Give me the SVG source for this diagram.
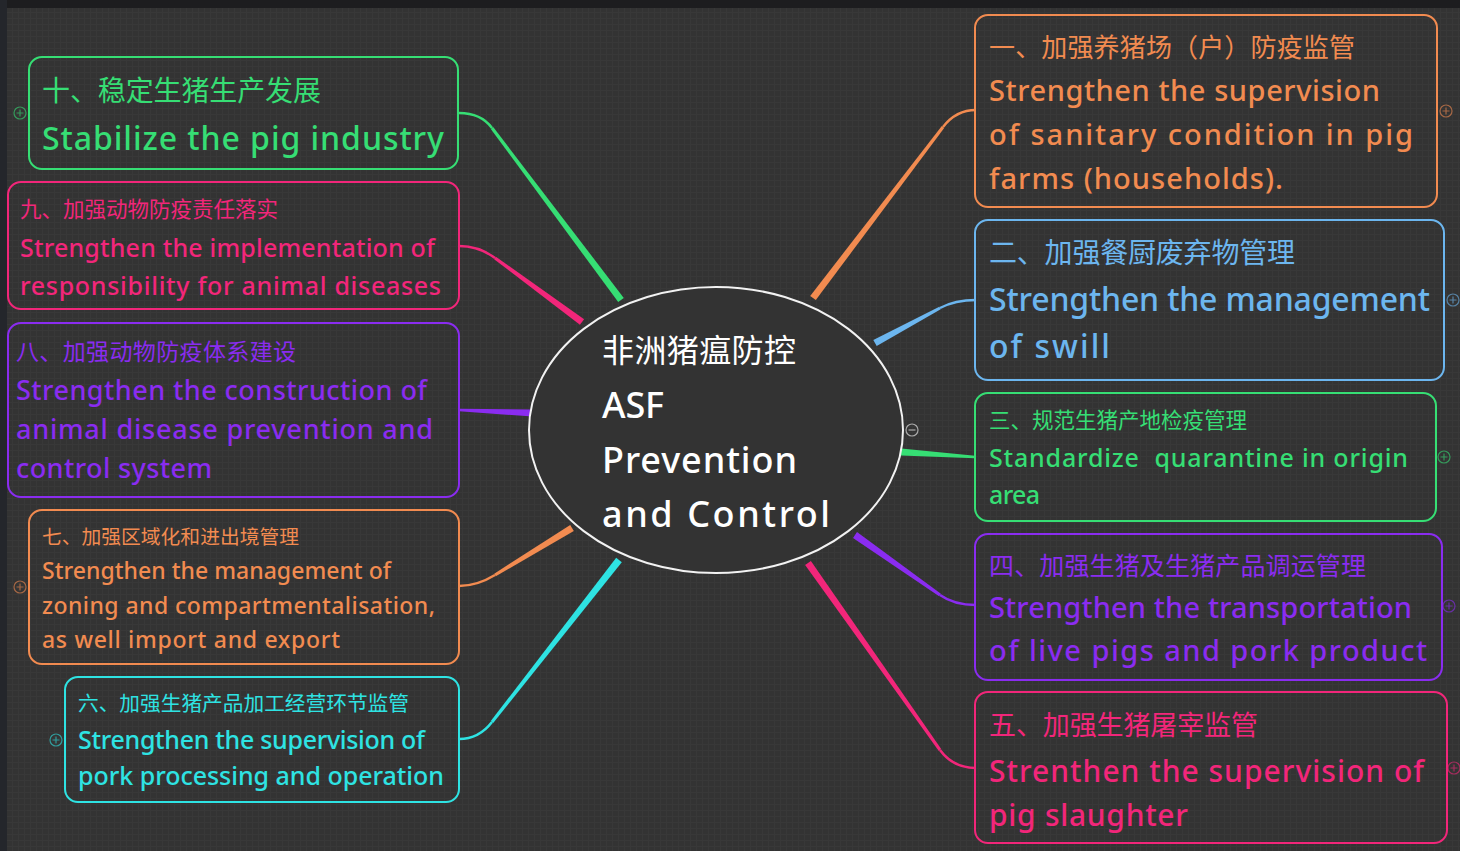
<svg xmlns="http://www.w3.org/2000/svg" width="1460" height="851" viewBox="0 0 1460 851">
<defs>
<pattern id="grid" width="6" height="6" patternUnits="userSpaceOnUse">
<rect width="6" height="6" fill="#333333"/>
<path d="M0 0.5H6M0.5 0V6" stroke="#383838" stroke-width="1"/>
</pattern>
<style>
.box{fill:none;stroke-width:2}
.cn{font-family:"Noto Sans CJK SC","Noto Sans",sans-serif}
.en{font-family:"Noto Sans","Liberation Sans",sans-serif;font-weight:500}
.or{stroke:#f28b50}.orf{fill:#f28b50}
.bl{stroke:#6cb6ef}.blf{fill:#6cb6ef}
.gr{stroke:#36de74}.grf{fill:#36de74}
.pu{stroke:#8a2cf0}.puf{fill:#8a2cf0}
.pk{stroke:#f2267a}.pkf{fill:#f2267a}
.cy{stroke:#2ee3e3}.cyf{fill:#2ee3e3}
.tog{fill:none;stroke-width:1.2;opacity:0.6}
.curve{fill:none;stroke-width:2.5}
</style>
</defs>
<rect width="1460" height="851" fill="url(#grid)"/>
<rect width="1460" height="8" fill="#1d1d1f"/>
<rect width="7" height="851" fill="#24262b"/>

<g id="connectors">
<polygon class="grf" points="623.8,297.9 493.2,127.1 490.8,128.9 618.2,302.1"/>
<path class="curve gr" d="M492 128Q481 113 459 113"/>
<polygon class="pkf" points="584.1,319.2 495.9,256.8 494.1,259.2 579.9,324.8"/>
<path class="curve pk" d="M495 258Q479 246 459 246"/>
<polygon class="puf" points="533.1,409.5 459,408.7 459,411.3 532.9,416.5"/>
<polygon class="orf" points="573.8,531.0 495.8,576.3 494.2,573.7 570.2,525.0"/>
<path class="curve or" d="M495 575Q477 586 459 586"/>
<polygon class="cyf" points="621.8,562.2 493.2,722.9 490.8,721.1 616.2,557.8"/>
<path class="curve cy" d="M492 722Q479 739 459 739"/>
<polygon class="orf" points="815.8,300.1 944.2,127.9 941.8,126.1 810.2,295.9"/>
<path class="curve or" d="M943 127Q956 110 976 110"/>
<polygon class="blf" points="876.7,346.1 940.7,309.3 939.3,306.7 873.3,339.9"/>
<path class="curve bl" d="M940 308Q955 300 976 300"/>
<polygon class="grf" points="900.8,455.5 975,458.3 975,455.7 901.2,448.5"/>
<polygon class="puf" points="853,537.9 939.1,596.2 940.9,593.8 857,532.1"/>
<path class="curve pu" d="M940 595Q954 605 976 605"/>
<polygon class="pkf" points="805.1,565 938.8,750.9 941.2,749.1 810.9,561"/>
<path class="curve pk" d="M940 750Q953 768 976 768"/>
</g>

<g id="center">
<ellipse cx="716" cy="430" rx="187" ry="143" fill="#333333" stroke="#f2f2f2" stroke-width="2"/>
<text class="cn" x="602" y="362" font-size="32" fill="#ffffff" textLength="194">非洲猪瘟防控</text>
<text class="en" x="602" y="418" font-size="36" fill="#ffffff" textLength="62">ASF</text>
<text class="en" x="602" y="473" font-size="36" fill="#ffffff" textLength="195">Prevention</text>
<text class="en" x="602" y="527" font-size="36" fill="#ffffff" textLength="228">and Control</text>
<circle cx="912" cy="430" r="6" fill="none" stroke="#aaaaaa" stroke-width="1.2"/>
<path d="M908.5 430H915.5" stroke="#aaaaaa" stroke-width="1.2"/>
</g>

<g id="n1">
<rect class="box or" x="975" y="15" width="462" height="192" rx="13"/>
<text class="cn orf" x="989" y="57" font-size="26" textLength="366">一、加强养猪场（户）防疫监管</text>
<text class="en orf" x="989" y="101" font-size="29" textLength="391">Strengthen the supervision</text>
<text class="en orf" x="989" y="145" font-size="29" textLength="424">of sanitary condition in pig</text>
<text class="en orf" x="989" y="189" font-size="29" textLength="294">farms (households).</text>
<circle class="tog or" cx="1446" cy="111" r="6"/><path class="tog or" d="M1442.5 111H1449.5M1446 107.5V114.5"/>
</g>

<g id="n2">
<rect class="box bl" x="975" y="220" width="469" height="160" rx="13"/>
<text class="cn blf" x="989" y="263" font-size="28" textLength="306">二、加强餐厨废弃物管理</text>
<text class="en blf" x="989" y="311" font-size="32" textLength="441">Strengthen the management</text>
<text class="en blf" x="989" y="358" font-size="32" textLength="121">of swill</text>
<circle class="tog bl" cx="1453" cy="300" r="6"/><path class="tog bl" d="M1449.5 300H1456.5M1453 296.5V303.5"/>
</g>

<g id="n3">
<rect class="box gr" x="975" y="393" width="461" height="128" rx="13"/>
<text class="cn grf" x="989" y="428" font-size="21.5" textLength="258">三、规范生猪产地检疫管理</text>
<text class="en grf" x="989" y="467" font-size="25" textLength="419">Standardize&#160; quarantine in origin</text>
<text class="en grf" x="989" y="504" font-size="25" textLength="51">area</text>
<circle class="tog gr" cx="1444" cy="457" r="6"/><path class="tog gr" d="M1440.5 457H1447.5M1444 453.5V460.5"/>
</g>

<g id="n4">
<rect class="box pu" x="975" y="534" width="467" height="146" rx="13"/>
<text class="cn puf" x="989" y="575" font-size="25" textLength="377">四、加强生猪及生猪产品调运管理</text>
<text class="en puf" x="989" y="618" font-size="29" textLength="423">Strengthen the transportation</text>
<text class="en puf" x="989" y="661" font-size="29" textLength="438">of live pigs and pork product</text>
<circle class="tog pu" cx="1449" cy="606" r="6"/><path class="tog pu" d="M1445.5 606H1452.5M1449 602.5V609.5"/>
</g>

<g id="n5">
<rect class="box pk" x="975" y="692" width="472" height="151" rx="13"/>
<text class="cn pkf" x="989" y="735" font-size="27" textLength="269">五、加强生猪屠宰监管</text>
<text class="en pkf" x="989" y="782" font-size="30" textLength="435">Strenthen the supervision of</text>
<text class="en pkf" x="989" y="826" font-size="30" textLength="199">pig slaughter</text>
<circle class="tog pk" cx="1454" cy="768" r="6"/><path class="tog pk" d="M1450.5 768H1457.5M1454 764.5V771.5"/>
</g>

<g id="n6">
<rect class="box cy" x="65" y="677" width="394" height="125" rx="13"/>
<text class="cn cyf" x="78" y="711" font-size="20.7" textLength="331">六、加强生猪产品加工经营环节监管</text>
<text class="en cyf" x="78" y="749" font-size="25" textLength="347">Strengthen the supervision of</text>
<text class="en cyf" x="78" y="785" font-size="25" textLength="366">pork processing and operation</text>
<circle class="tog cy" cx="56" cy="740" r="6"/><path class="tog cy" d="M52.5 740H59.5M56 736.5V743.5"/>
</g>

<g id="n7">
<rect class="box or" x="29" y="510" width="430" height="154" rx="13"/>
<text class="cn orf" x="42" y="544" font-size="19.8" textLength="257">七、加强区域化和进出境管理</text>
<text class="en orf" x="42" y="579" font-size="23" textLength="349">Strengthen the management of</text>
<text class="en orf" x="42" y="614" font-size="23" textLength="393">zoning and compartmentalisation,</text>
<text class="en orf" x="42" y="648" font-size="23" textLength="298">as well import and export</text>
<circle class="tog or" cx="20" cy="587" r="6"/><path class="tog or" d="M16.5 587H23.5M20 583.5V590.5"/>
</g>

<g id="n8">
<rect class="box pu" x="8" y="323" width="451" height="174" rx="13"/>
<text class="cn puf" x="16" y="360" font-size="23" textLength="280">八、加强动物防疫体系建设</text>
<text class="en puf" x="16" y="400" font-size="27" textLength="411">Strengthen the construction of</text>
<text class="en puf" x="16" y="439" font-size="27" textLength="417">animal disease prevention and</text>
<text class="en puf" x="16" y="478" font-size="27" textLength="196">control system</text>
</g>

<g id="n9">
<rect class="box pk" x="8" y="182" width="451" height="127" rx="13"/>
<text class="cn pkf" x="20" y="217" font-size="21.5" textLength="258">九、加强动物防疫责任落实</text>
<text class="en pkf" x="20" y="257" font-size="25" textLength="415">Strengthen the implementation of</text>
<text class="en pkf" x="20" y="295" font-size="25" textLength="421">responsibility for animal diseases</text>
</g>

<g id="n10">
<rect class="box gr" x="29" y="57" width="429" height="112" rx="13"/>
<text class="cn grf" x="42" y="101" font-size="28" textLength="279">十、稳定生猪生产发展</text>
<text class="en grf" x="42" y="150" font-size="32" textLength="402">Stabilize the pig industry</text>
<circle class="tog gr" cx="20" cy="113" r="6"/><path class="tog gr" d="M16.5 113H23.5M20 109.5V116.5"/>
</g>
</svg>
